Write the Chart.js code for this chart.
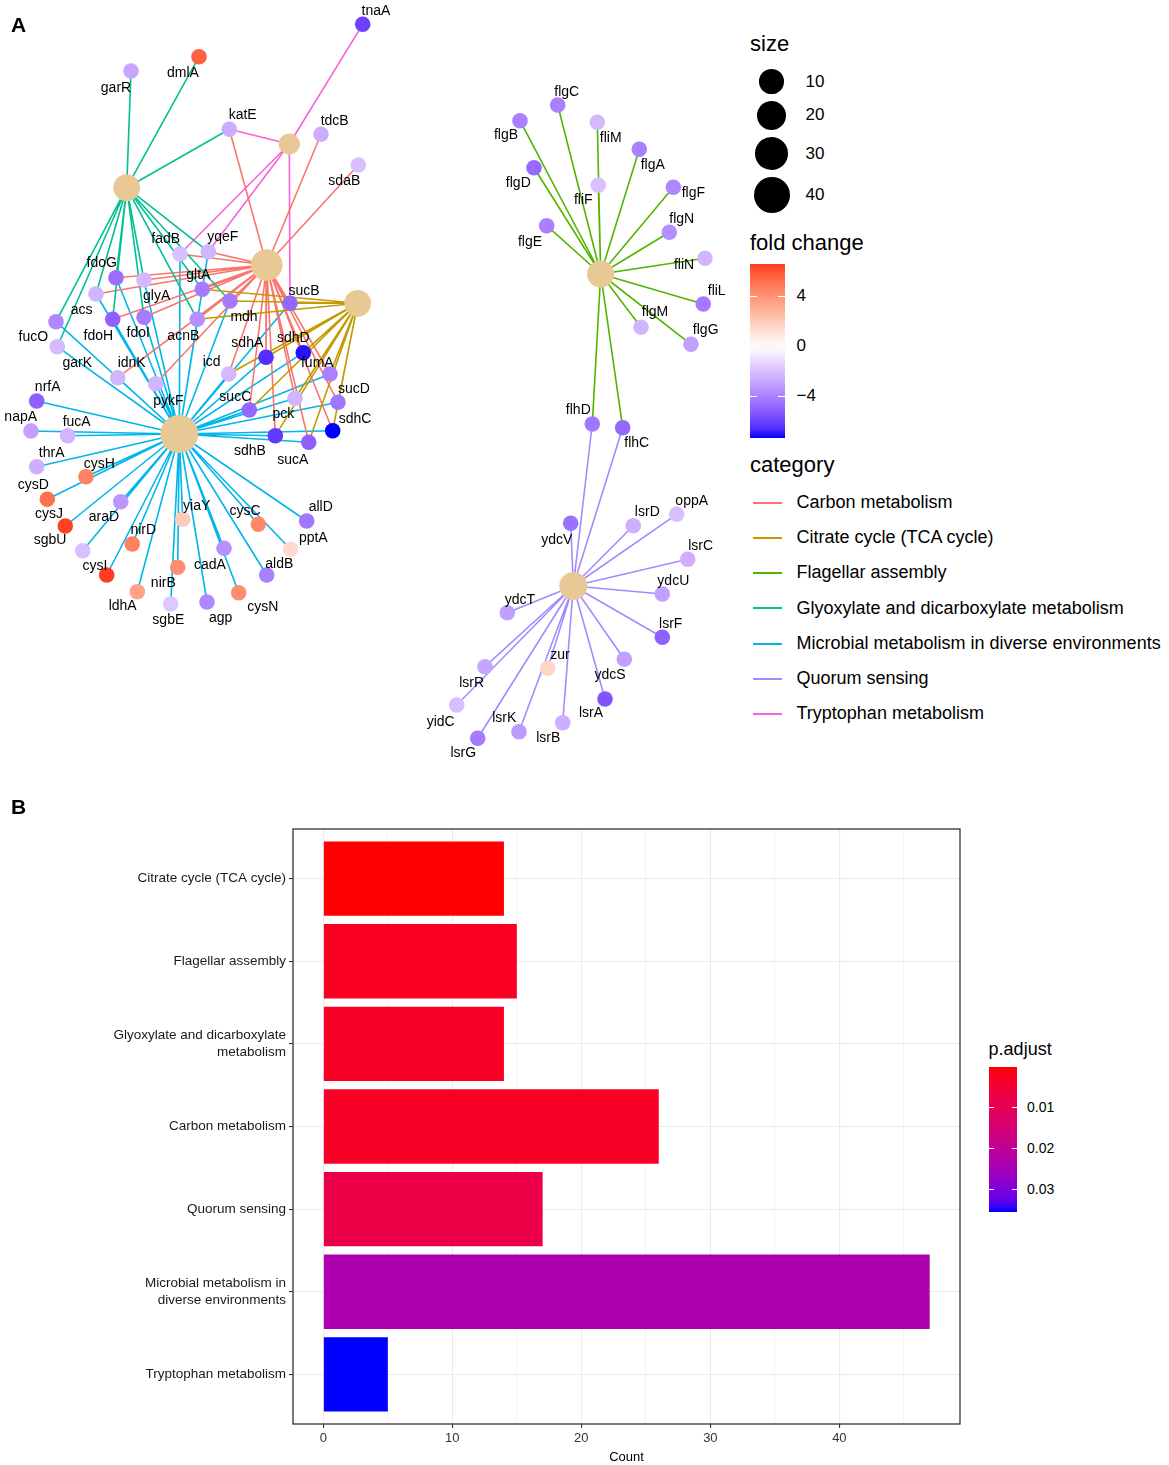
<!DOCTYPE html>
<html>
<head>
<meta charset="utf-8">
<script src="https://cdn.jsdelivr.net/npm/chart.js@4.4.1/dist/chart.umd.min.js"></script>
<style>
  body { margin: 0; background: #fff; font-family: "Liberation Sans", Arial, sans-serif; color: #000; }
  #page { position: relative; width: 1169px; height: 1465px; overflow: hidden; }
  .abs { position: absolute; white-space: nowrap; }
</style>
</head>
<body>
<div id="page">
  <canvas id="net" width="745" height="790" style="position:absolute;left:0;top:0"></canvas>
  <canvas id="bars" width="975" height="665" style="position:absolute;left:0;top:800px"></canvas>
  <div class="abs" style="left:11px;top:13px;font-weight:bold;font-size:21px">A</div>
  <div class="abs" style="left:11px;top:795px;font-weight:bold;font-size:21px">B</div>
</div>
<script>
// enriched pathways (bar order, top to bottom)
const pathways = ['Citrate cycle (TCA cycle)', 'Flagellar assembly', 'Glyoxylate and dicarboxylate metabolism',
  'Carbon metabolism', 'Quorum sensing', 'Microbial metabolism in diverse environments', 'Tryptophan metabolism'];
const counts = [14, 15, 14, 26, 17, 47, 5];
const pAdjust = [0.00003, 0.0026, 0.003, 0.003, 0.0078, 0.0238, 0.0356];
const pTicks = [0.01, 0.02, 0.03];
const fcTicks = [4, 0, -4];
const sizeBreaks = [10, 20, 30, 40];

// network layout: pathway nodes (same order as pathways)
const hubX = [357.7, 600.7, 126.7, 266.7, 573.3, 179.3, 289.3];
const hubY = [303.3, 274, 187.7, 265, 586, 434, 144];

// gene, layout x, layout y, fold change, label x, label y
const metabolismGenes = [
  ['tnaA', 362.7, 24.3, -6.0, 376, 11], ['dmlA', 199, 56.7, 5.7, 183, 72.7], ['garR', 131, 71, -2.8, 116, 88],
  ['katE', 229.3, 129.3, -2.6, 242.7, 115], ['tdcB', 321, 134.3, -2.6, 334.7, 120.7], ['sdaB', 358.3, 165, -2.0, 344.3, 181],
  ['fadB', 180, 254, -2.0, 165.7, 239], ['yqeF', 208.3, 251.7, -2.3, 222.7, 237.3], ['fdoG', 116, 277.7, -4.6, 101.7, 263.3],
  ['glyA', 144, 280, -2.2, 156.7, 296], ['gltA', 202.3, 289.3, -4.2, 198.3, 275], ['acs', 96, 294, -2.3, 81.7, 310],
  ['mdh', 230, 301, -4.2, 244, 317.3], ['sucB', 290, 303.3, -4.8, 304, 290.7], ['fucO', 56, 321.7, -3.8, 33.3, 337.3],
  ['fdoH', 112.7, 319.3, -5.0, 98.3, 336], ['fdoI', 144, 317.3, -4.2, 138.3, 333.3], ['acnB', 197.3, 319.3, -3.5, 183.3, 336],
  ['garK', 57.3, 346.7, -2.2, 77.3, 362.7], ['sdhA', 266, 357.3, -6.5, 247.3, 343.3], ['sdhD', 303.3, 352.7, -7.1, 293.3, 338.3],
  ['icd', 228.7, 374, -2.2, 211.7, 361.7], ['fumA', 330, 374, -4.0, 317.3, 362.7], ['idnK', 117.7, 377.7, -2.3, 131.7, 363.3],
  ['pykF', 155.7, 383.7, -2.3, 168.3, 400.7], ['sucD', 338, 402.3, -4.3, 354, 389], ['pck', 295, 398.3, -2.3, 283.3, 414.3],
  ['sucC', 249.3, 410, -4.8, 235.3, 396.7], ['sdhC', 332.7, 430.7, -7.3, 355, 419.3], ['sdhB', 275.3, 435.7, -6.2, 250, 450.7],
  ['sucA', 308.7, 442.3, -5.0, 292.7, 460], ['nrfA', 36.7, 401, -5.0, 47.7, 386.7], ['napA', 31, 431, -3.0, 20.7, 417.3],
  ['fucA', 67.7, 435.7, -2.3, 76.7, 422.3], ['thrA', 36.7, 466.7, -2.5, 51.7, 453.3], ['cysH', 86, 476.7, 4.6, 99.3, 464],
  ['cysD', 47.3, 499.3, 5.2, 33.3, 485], ['cysJ', 65.3, 526, 6.5, 49, 514], ['araD', 120.7, 501.7, -3.3, 104, 517.3],
  ['sgbU', 82.7, 550.7, -2.0, 50, 540], ['cysI', 106.7, 575, 6.6, 95, 566], ['nirD', 132.3, 544, 4.7, 143.3, 530],
  ['yiaY', 182.7, 519.3, 2.0, 196.7, 506], ['cysC', 258.3, 524.3, 4.4, 245, 510.7], ['allD', 306.7, 521, -4.3, 320.7, 507.3],
  ['pptA', 290.7, 549.3, 1.4, 313.3, 538.3], ['cadA', 224, 548.3, -3.5, 210, 565], ['aldB', 266.7, 575, -4.0, 279.3, 564],
  ['nirB', 177.7, 567.3, 4.2, 163.3, 583.3], ['ldhA', 137.3, 591.7, 3.5, 122.7, 606], ['sgbE', 170.7, 604, -1.7, 168.3, 620],
  ['agp', 207, 602, -3.8, 220.7, 618.3], ['cysN', 238.7, 592.7, 4.2, 262.7, 606.7]
];
const flagellaQuorumGenes = [
  ['flgC', 557.7, 105, -4.0, 566.7, 91.7], ['flgB', 520, 120.7, -4.0, 506, 135], ['fliM', 597.3, 122.3, -2.2, 610.7, 138.3],
  ['flgA', 639.3, 149.3, -4.0, 652.7, 165], ['flgD', 534, 167.7, -4.7, 518.3, 183.3], ['fliF', 598.3, 185.3, -2.0, 583.3, 200],
  ['flgF', 673.3, 187.3, -3.8, 693.3, 193.3], ['flgN', 669.3, 232.3, -3.6, 681.7, 219], ['flgE', 546.7, 225.7, -4.0, 530, 241.7],
  ['fliN', 705, 258.3, -2.3, 684, 265], ['fliL', 703.3, 304, -4.2, 716.7, 290.7], ['flgM', 641, 327.3, -2.3, 655, 312.3],
  ['flgG', 691, 344.3, -3.0, 705.7, 330], ['flhD', 592.3, 424, -4.3, 578.3, 410], ['flhC', 622.7, 427.7, -4.8, 636.7, 442.7],
  ['ydcV', 570.7, 523.3, -4.5, 556.7, 540], ['lsrD', 633.3, 525.7, -2.5, 647.3, 512.3], ['oppA', 676.7, 514.3, -2.0, 691.7, 501],
  ['lsrC', 687.7, 559.3, -2.5, 700.7, 545.7], ['ydcU', 662.3, 594, -3.0, 673.3, 580.7], ['ydcT', 507.3, 612.7, -3.0, 520, 600],
  ['lsrF', 662.3, 637.3, -5.0, 670.7, 624], ['zur', 547.7, 668.3, 1.6, 560, 655], ['ydcS', 624.3, 659.3, -3.0, 610, 675],
  ['lsrR', 485, 666.7, -2.8, 471.7, 683.3], ['lsrA', 605, 699, -5.4, 591, 713.3], ['yidC', 456.7, 705, -2.0, 440.7, 721.7],
  ['lsrK', 519, 731.7, -3.2, 504.3, 718.3], ['lsrB', 562.7, 722.7, -2.5, 548.3, 738.3], ['lsrG', 477.7, 738.3, -4.2, 463.3, 752.7]
];

// gene membership of each pathway
const citrateGenes = ['gltA', 'acnB', 'icd', 'sucA', 'sucB', 'sucC', 'sucD', 'sdhA', 'sdhB', 'sdhC', 'sdhD', 'fumA', 'mdh', 'pck'];
const flagellarGenes = ['flgC', 'flgB', 'fliM', 'flgA', 'flgD', 'fliF', 'flgF', 'flgN', 'flgE', 'fliN', 'fliL', 'flgM', 'flgG', 'flhD', 'flhC'];
const glyoxylateGenes = ['garR', 'dmlA', 'katE', 'fucO', 'garK', 'acs', 'fdoG', 'fdoH', 'fdoI', 'glyA', 'gltA', 'acnB', 'mdh', 'yqeF'];
const carbonGenes = ['katE', 'tdcB', 'sdaB', 'fadB', 'yqeF', 'fdoG', 'fdoH', 'fdoI', 'glyA', 'acs', 'gltA', 'acnB', 'mdh', 'icd',
  'sucA', 'sucB', 'sucC', 'sucD', 'sdhA', 'sdhB', 'sdhC', 'sdhD', 'fumA', 'pck', 'pykF', 'idnK'];
const quorumGenes = ['flhD', 'flhC', 'ydcV', 'lsrD', 'oppA', 'lsrC', 'ydcU', 'ydcT', 'lsrF', 'zur', 'ydcS', 'lsrR', 'lsrA', 'yidC', 'lsrK', 'lsrB', 'lsrG'];
const microbialGenes = ['nrfA', 'napA', 'fucA', 'thrA', 'cysH', 'cysD', 'cysJ', 'sgbU', 'araD', 'cysI', 'nirD', 'ldhA', 'nirB', 'sgbE',
  'yiaY', 'cadA', 'agp', 'cysN', 'cysC', 'aldB', 'pptA', 'allD', 'fucO', 'garK', 'acs', 'fdoG', 'fdoH', 'fdoI', 'glyA', 'idnK',
  'pykF', 'gltA', 'acnB', 'mdh', 'yqeF', 'icd', 'sucB', 'sucA', 'sucC', 'sucD', 'sdhA', 'sdhB', 'sdhC', 'sdhD', 'fumA', 'pck', 'fadB'];
const tryptophanGenes = ['tnaA', 'katE', 'fadB', 'yqeF', 'sucB'];
const pathwayGenes = [citrateGenes, flagellarGenes, glyoxylateGenes, carbonGenes, quorumGenes, microbialGenes, tryptophanGenes];

// ---- styling helpers ----
Chart.defaults.font.family = '"Liberation Sans", Arial, sans-serif';
const hue = ['#F8766D', '#C49A00', '#53B400', '#00C094', '#00B6EB', '#A58AFF', '#FB61D7'];
const legendOrder = [...pathways].sort();
const catColor = name => hue[legendOrder.indexOf(name)];

function hexToLab(hex) {
  const n = parseInt(hex.slice(1), 16);
  const c = [(n >> 16) & 255, (n >> 8) & 255, n & 255].map(v => {
    v /= 255; return v <= 0.04045 ? v / 12.92 : Math.pow((v + 0.055) / 1.055, 2.4);
  });
  const X = (0.4124 * c[0] + 0.3576 * c[1] + 0.1805 * c[2]) / 0.95047;
  const Y = 0.2126 * c[0] + 0.7152 * c[1] + 0.0722 * c[2];
  const Z = (0.0193 * c[0] + 0.1192 * c[1] + 0.9505 * c[2]) / 1.08883;
  const f = t => t > 0.008856 ? Math.cbrt(t) : 7.787 * t + 16 / 116;
  return [116 * f(Y) - 16, 500 * (f(X) - f(Y)), 200 * (f(Y) - f(Z))];
}
function labToRgb(lab) {
  const fy = (lab[0] + 16) / 116, fx = fy + lab[1] / 500, fz = fy - lab[2] / 200;
  const inv = t => t * t * t > 0.008856 ? t * t * t : (t - 16 / 116) / 7.787;
  const X = inv(fx) * 0.95047, Y = inv(fy), Z = inv(fz) * 1.08883;
  const lin = [3.2406 * X - 1.5372 * Y - 0.4986 * Z, -0.9689 * X + 1.8758 * Y + 0.0415 * Z, 0.0557 * X - 0.2040 * Y + 1.0570 * Z];
  const o = lin.map(v => {
    v = Math.max(0, v);
    v = v <= 0.0031308 ? 12.92 * v : 1.055 * Math.pow(v, 1 / 2.4) - 0.055;
    return Math.round(Math.min(1, v) * 255);
  });
  return `rgb(${o[0]},${o[1]},${o[2]})`;
}
function mixLab(c1, c2, t) {
  const a = hexToLab(c1), b = hexToLab(c2);
  return labToRgb(a.map((v, i) => v + (b[i] - v) * t));
}

const allGenes = metabolismGenes.concat(flagellaQuorumGenes);
const fcMax = Math.max(...allGenes.map(g => g[3]));
const fcMin = Math.min(...allGenes.map(g => g[3]));
const fcLim = Math.max(Math.abs(fcMax), Math.abs(fcMin));
const fcColor = fc => fc < 0 ? mixLab('#FFFFFF', '#0000FF', -fc / fcLim) : mixLab('#FFFFFF', '#FF0000', fc / fcLim);
const pMin = Math.min(...pAdjust), pMax = Math.max(...pAdjust);
const pColor = p => mixLab('#FF0000', '#0000FF', (p - pMin) / (pMax - pMin));
const sizeRadius = s => 6.6 + 1.8 * Math.sqrt(s);

// ---- panel A: network ----
const geneIndex = {};
allGenes.forEach(g => { geneIndex[g[0]] = g; });

const edgeSets = pathways.map((p, i) => {
  const pts = [];
  pathwayGenes[i].forEach(name => {
    const g = geneIndex[name];
    pts.push({ x: hubX[i], y: hubY[i] }, { x: g[1], y: g[2] }, { x: null, y: null });
  });
  return { data: pts, showLine: true, spanGaps: false, borderColor: catColor(p), borderWidth: 1.6,
           pointRadius: 0, order: 2 };
});

const hubSet = {
  data: pathways.map((p, i) => ({ x: hubX[i], y: hubY[i] })),
  pointRadius: counts.map(sizeRadius), pointBackgroundColor: '#E8C996', pointBorderWidth: 0, order: 1
};
const geneSet = {
  data: allGenes.map(g => ({ x: g[1], y: g[2] })),
  pointRadius: 7.8, pointBackgroundColor: allGenes.map(g => fcColor(g[3])), pointBorderWidth: 0, order: 0
};

const geneLabels = {
  id: 'geneLabels',
  afterDatasetsDraw(chart) {
    const { ctx, scales: { x, y } } = chart;
    ctx.save();
    ctx.font = '14px "Liberation Sans", Arial, sans-serif';
    ctx.fillStyle = '#000';
    ctx.textAlign = 'center';
    ctx.textBaseline = 'middle';
    allGenes.forEach(g => ctx.fillText(g[0], x.getPixelForValue(g[4]), y.getPixelForValue(g[5])));
    ctx.restore();
  }
};

new Chart(document.getElementById('net'), {
  type: 'scatter',
  data: { datasets: [...edgeSets, hubSet, geneSet] },
  options: {
    responsive: false, animation: false, events: [],
    layout: { padding: 0, autoPadding: false },
    plugins: { legend: { display: false }, tooltip: { enabled: false } },
    scales: {
      x: { type: 'linear', display: false, min: 0, max: 745, offset: false },
      y: { type: 'linear', display: false, min: 0, max: 790, reverse: true, offset: false }
    }
  },
  plugins: [geneLabels]
});

// ---- panel A legends ----
const page = document.getElementById('page');
function put(text, left, cy, size) {
  const d = document.createElement('div');
  d.className = 'abs';
  d.textContent = text;
  d.style.left = left + 'px';
  d.style.top = (cy - size * 0.6) + 'px';
  d.style.fontSize = size + 'px';
  d.style.lineHeight = (size * 1.2) + 'px';
  page.appendChild(d);
  return d;
}
function box(left, top, w, h, bg) {
  const d = document.createElement('div');
  d.className = 'abs';
  d.style.cssText += `left:${left}px;top:${top}px;width:${w}px;height:${h}px;background:${bg};`;
  page.appendChild(d);
  return d;
}

put('size', 750, 44, 22);
let cy = 81.7;
sizeBreaks.forEach((s, i) => {
  const r = sizeRadius(s);
  if (i > 0) cy += sizeRadius(sizeBreaks[i - 1]) + r + 7;
  const c = box(771.7 - r, cy - r, 2 * r, 2 * r, '#000');
  c.style.borderRadius = '50%';
  put(String(s), 805.5, cy, 17);
});

put('fold change', 750, 242.7, 22);
const fcTop = 264, fcH = 174, fcLeft = 750, fcW = 35;
const fcStops = [];
for (let k = 0; k <= 20; k++) {
  const v = fcMax - (k / 20) * (fcMax - fcMin);
  fcStops.push(`${fcColor(v)} ${(k * 5)}%`);
}
box(fcLeft, fcTop, fcW, fcH, `linear-gradient(to bottom, ${fcStops.join(',')})`);
fcTicks.forEach(v => {
  const yy = fcTop + (fcMax - v) / (fcMax - fcMin) * fcH;
  box(fcLeft, yy - 0.5, 7, 1, '#fff');
  box(fcLeft + fcW - 7, yy - 0.5, 7, 1, '#fff');
  put(v < 0 ? '\u2212' + Math.abs(v) : String(v), 796.5, yy, 17);
});

put('category', 750, 465, 22);
legendOrder.forEach((p, i) => {
  const yy = 502.7 + 35.2 * i;
  box(753, yy - 1, 29, 2, hue[i]);
  put(p, 796.5, yy, 18);
});

// ---- panel B: bar chart ----
function wrap(s, w) {
  const out = [];
  let line = '';
  s.split(' ').forEach(word => {
    if (line && (line + ' ' + word).length > w) { out.push(line); line = word; }
    else line = line ? line + ' ' + word : word;
  });
  out.push(line);
  return out.length > 1 ? out : out[0];
}
const wrapped = pathways.map(p => wrap(p, 30));
const maxCount = Math.max(...counts);

const frame = {
  id: 'frame',
  afterDraw(chart) {
    const { ctx, chartArea: a } = chart;
    ctx.save();
    ctx.strokeStyle = '#333';
    ctx.lineWidth = 1.3;
    ctx.strokeRect(a.left, a.top, a.right - a.left, a.bottom - a.top);
    ctx.restore();
  }
};
const isMajor = c => c.tick && c.tick.value % 10 === 0;

new Chart(document.getElementById('bars'), {
  type: 'bar',
  data: {
    datasets: [{
      data: counts.map((c, i) => ({ x: c, y: i })),
      backgroundColor: pAdjust.map(pColor),
      borderWidth: 0, barPercentage: 0.9, categoryPercentage: 1
    }]
  },
  options: {
    indexAxis: 'y', responsive: false, animation: false, events: [],
    layout: { padding: { top: 29, right: 15, left: 0, bottom: 0 }, autoPadding: false },
    plugins: { legend: { display: false }, tooltip: { enabled: false } },
    scales: {
      x: {
        type: 'linear', min: -0.05 * maxCount, max: 1.05 * maxCount, offset: false,
        afterBuildTicks: s => { s.ticks = []; for (let v = 0; v <= s.max; v += 5) s.ticks.push({ value: v }); },
        ticks: { callback: v => v % 10 === 0 ? v : '', color: '#333', font: { size: 13 }, padding: 3, maxRotation: 0, autoSkip: false },
        grid: { offset: false, color: '#EBEBEB', lineWidth: c => isMajor(c) ? 1.1 : 0.6,
                tickColor: c => isMajor(c) ? '#333' : 'rgba(0,0,0,0)', tickLength: 4, tickWidth: 1.1 },
        border: { display: false },
        title: { display: true, text: 'Count', color: '#000', font: { size: 13 }, padding: { top: 1, bottom: 0 } },
        afterFit: s => { s.height = 41; }
      },
      y: {
        type: 'linear', min: -0.6, max: pathways.length - 0.4, reverse: true, offset: false,
        afterBuildTicks: s => { s.ticks = pathways.map((_, i) => ({ value: i })); },
        ticks: { callback: v => wrapped[Math.round(v)], color: '#1a1a1a', font: { size: 13.5 }, padding: 3, autoSkip: false },
        grid: { offset: false, color: '#EBEBEB', lineWidth: 1.1, tickColor: '#333', tickLength: 4, tickWidth: 1.1 },
        border: { display: false },
        afterFit: s => { s.width = 293; }
      }
    }
  },
  plugins: [frame]
});

// ---- panel B legend ----
put('p.adjust', 988.6, 1050, 18);
const pTop = 1067, pH = 145, pLeft = 988.6, pW = 28.6;
const pStops = [];
for (let k = 0; k <= 20; k++) pStops.push(`${pColor(pMin + (k / 20) * (pMax - pMin))} ${k * 5}%`);
box(pLeft, pTop, pW, pH, `linear-gradient(to bottom, ${pStops.join(',')})`);
pTicks.forEach(v => {
  const yy = pTop + (v - pMin) / (pMax - pMin) * pH;
  box(pLeft, yy - 0.5, 5.7, 1, '#fff');
  box(pLeft + pW - 5.7, yy - 0.5, 5.7, 1, '#fff');
  put(v.toFixed(2), 1027, yy, 14);
});
</script>
</body>
</html>
